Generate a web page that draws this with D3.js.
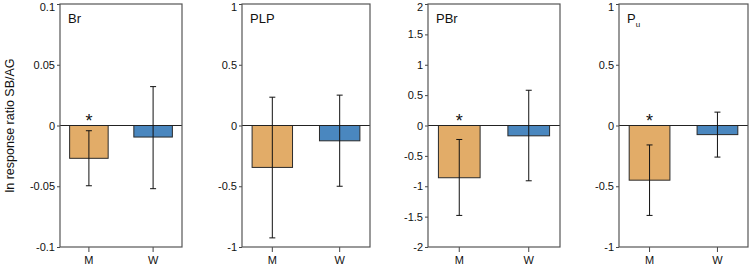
<!DOCTYPE html>
<html>
<head>
<meta charset="utf-8">
<script src="https://cdn.jsdelivr.net/npm/d3@7"></script>
<style>
    body { margin: 0; background: #fff; }
    svg { font-family: Arial, "Liberation Sans", sans-serif; }
</style>
</head>
<body>
<div id="chart"></div>
<script>
'use strict';

// Data
const groups = ['M', 'W'];
const panelNames = ['Br', 'PLP', 'PBr', 'Pu'];
const meanM = [-0.027, -0.345, -0.86, -0.45];
const meanW = [-0.0095, -0.126, -0.17, -0.075];
const lowM = [-0.0496, -0.925, -1.48, -0.74];
const highM = [-0.0043, 0.233, -0.23, -0.16];
const lowW = [-0.052, -0.50, -0.91, -0.26];
const highW = [0.032, 0.25, 0.58, 0.11];
const signifM = [true, false, true, true];
const yDomains = [[-0.1, 0.1], [-1, 1], [-2, 2], [-1, 1]];
const yTicks = [
    [-0.1, -0.05, 0, 0.05, 0.1],
    [-1, -0.5, 0, 0.5, 1],
    [-2, -1.5, -1, -0.5, 0, 0.5, 1, 1.5, 2],
    [-1, -0.5, 0, 0.5, 1]
];

// Layout
const W = 749, H = 269;
const plotTop = 4, plotBottom = 247;
const panelX = [[60, 182], [242, 370], [428, 560], [619, 748]];
const colors = {M: '#E2AC68', W: '#4A87BF'};

const svg = d3.select('#chart')
    .append('svg')
    .attr('width', W)
    .attr('height', H);

// Y axis title
svg.append('text')
    .attr('transform', `translate(14, ${(plotTop + plotBottom) / 2}) rotate(-90)`)
    .attr('text-anchor', 'middle')
    .style('font-size', '12.5px')
    .style('fill', '#111')
    .text('ln response ratio SB/AG');

panelNames.forEach((name, i) => {
    const [x0, x1] = panelX[i];
    const y = d3.scaleLinear().domain(yDomains[i]).range([plotBottom, plotTop]);
    const x = d3.scaleBand().domain(groups).range([x0, x1]).paddingInner(0.4).paddingOuter(0.15);
    const g = svg.append('g');

    const rows = [
        {grp: 'M', v: meanM[i], lo: lowM[i], hi: highM[i], sig: signifM[i]},
        {grp: 'W', v: meanW[i], lo: lowW[i], hi: highW[i], sig: false}
    ];

    // Y axis (plain hyphen for negatives)
    const yAx = g.append('g')
        .attr('transform', `translate(${x0},0)`)
        .call(d3.axisLeft(y).tickValues(yTicks[i]).tickSize(3).tickPadding(2).tickFormat(d => String(d)));
    yAx.select('.domain').remove();
    yAx.selectAll('line').attr('stroke', '#444');
    yAx.selectAll('text').style('font-size', '11px').style('fill', '#111');
    // keep top label inside the page
    yAx.selectAll('.tick').filter(d => d === yDomains[i][1]).select('text').attr('dy', '0.55em');

    // X axis
    const xAx = g.append('g')
        .attr('transform', `translate(0,${plotBottom})`)
        .call(d3.axisBottom(x).tickSize(5).tickPadding(4));
    xAx.select('.domain').remove();
    xAx.selectAll('line').attr('stroke', '#444');
    xAx.selectAll('text').style('font-size', '11px').style('fill', '#111');

    // Bars
    g.selectAll('.bar')
        .data(rows)
        .join('rect')
        .attr('class', 'bar')
        .attr('x', d => x(d.grp))
        .attr('width', x.bandwidth())
        .attr('y', d => y(Math.max(0, d.v)))
        .attr('height', d => Math.abs(y(d.v) - y(0)))
        .attr('fill', d => colors[d.grp])
        .attr('stroke', '#2a2a2a')
        .attr('stroke-width', 1);

    // Zero line
    g.append('line')
        .attr('x1', x0).attr('x2', x1)
        .attr('y1', y(0)).attr('y2', y(0))
        .attr('stroke', '#222')
        .attr('stroke-width', 1);

    // Error bars
    const eb = g.selectAll('.err')
        .data(rows)
        .join('g')
        .attr('class', 'err')
        .attr('stroke', '#111')
        .attr('stroke-width', 1);
    eb.append('line')
        .attr('x1', d => x(d.grp) + x.bandwidth() / 2)
        .attr('x2', d => x(d.grp) + x.bandwidth() / 2)
        .attr('y1', d => y(d.lo))
        .attr('y2', d => y(d.hi));
    ['lo', 'hi'].forEach(k => {
        eb.append('line')
            .attr('x1', d => x(d.grp) + x.bandwidth() / 2 - 3)
            .attr('x2', d => x(d.grp) + x.bandwidth() / 2 + 3)
            .attr('y1', d => y(d[k]))
            .attr('y2', d => y(d[k]));
    });

    // Significance asterisk
    g.selectAll('.sig')
        .data(rows.filter(d => d.sig))
        .join('text')
        .attr('class', 'sig')
        .attr('x', d => x(d.grp) + x.bandwidth() / 2)
        .attr('y', y(0) + 1)
        .attr('text-anchor', 'middle')
        .style('font-size', '18px')
        .style('fill', '#111')
        .text('*');

    // Frame
    g.append('rect')
        .attr('x', x0).attr('y', plotTop)
        .attr('width', x1 - x0).attr('height', plotBottom - plotTop)
        .attr('fill', 'none')
        .attr('stroke', '#555')
        .attr('stroke-width', 1.2);

    // Panel label
    const lbl = g.append('text')
        .attr('x', x0 + 8)
        .attr('y', plotTop + 19)
        .style('font-size', '13px')
        .style('fill', '#111');
    if (name === 'Pu') {
        lbl.append('tspan').text('P');
        lbl.append('tspan').attr('dy', 4).style('font-size', '8px').text('u');
    } else {
        lbl.text(name);
    }
});
</script>
</body>
</html>
